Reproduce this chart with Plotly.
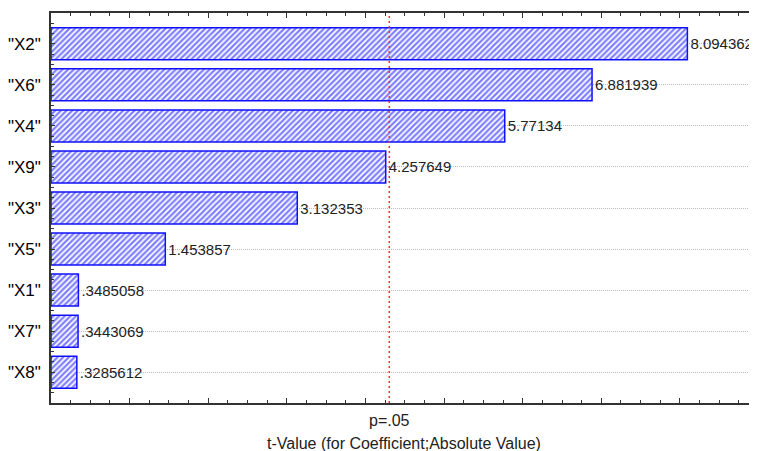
import plotly.graph_objects as go

categories = ['"X2"', '"X6"', '"X4"', '"X9"', '"X3"', '"X5"', '"X1"', '"X7"', '"X8"']
t_values = [8.094362, 6.881939, 5.77134, 4.257649, 3.132353, 1.453857, 0.3485058, 0.3443069, 0.3285612]
value_labels = ["8.094362", "6.881939", "5.77134", "4.257649", "3.132353", "1.453857", ".3485058", ".3443069", ".3285612"]
p_crit = 4.303
p_label = "p=.05"
x_title = "t-Value (for Coefficient;Absolute Value)"

positions = list(range(len(categories)))
font_family = "Liberation Sans, Arial, sans-serif"

fig = go.Figure()
fig.add_trace(go.Bar(
    x=t_values,
    y=positions,
    orientation="h",
    width=0.78,
    marker=dict(
        color="white",
        line=dict(color="#1010ff", width=1.5),
        pattern=dict(shape="/", fgcolor="#0000ff", bgcolor="white", size=4, solidity=0.55),
    ),
    text=value_labels,
    textposition="outside",
    constraintext="none",
    textfont=dict(family=font_family, size=15, color="#222222"),
    cliponaxis=False,
    showlegend=False,
))

fig.add_shape(type="line", x0=p_crit, x1=p_crit, y0=0, y1=1, xref="x", yref="paper",
              line=dict(color="#ff2a2a", width=1.5, dash="2px,3px"))

fig.add_annotation(x=p_crit, y=0, xref="x", yref="paper", yshift=-17, yanchor="middle",
                   text=p_label, showarrow=False,
                   font=dict(family=font_family, size=16, color="#222222"))
fig.add_annotation(x=0.5, y=0, xref="paper", yref="paper", yshift=-40, yanchor="middle",
                   text=x_title, showarrow=False,
                   font=dict(family=font_family, size=16, color="#222222"))

fig.update_xaxes(
    range=[0, 8.98],
    showgrid=False, zeroline=False,
    showline=True, linecolor="#333333", linewidth=2, mirror="ticks",
    ticks="inside", dtick=1, tick0=0, ticklen=5, tickcolor="#333333", tickwidth=1,
    minor=dict(ticks="inside", dtick=0.25, ticklen=3, tickcolor="#333333", showgrid=False),
    showticklabels=False,
    automargin=False,
)
fig.update_yaxes(
    range=[8.75, -0.75],
    tickvals=positions, ticktext=categories,
    showgrid=True, gridcolor="#bbbbbb", griddash="1px,1px", gridwidth=1,
    zeroline=False,
    showline=True, linecolor="#333333", linewidth=1.5, mirror="ticks",
    ticks="inside", ticklen=4, tickcolor="#333333", tickwidth=1,
    minor=dict(ticks="inside", dtick=0.25, tick0=-0.75, ticklen=3, tickcolor="#333333", showgrid=False),
    tickfont=dict(family=font_family, size=17, color="#000000"),
    ticklabelstandoff=5,
    automargin=False,
)

# the page body has an 8px default margin, so the figure is shrunk to keep the plot area aligned
fig.update_layout(
    width=749, height=443,
    margin=dict(l=43, r=0, t=5, b=48),
    plot_bgcolor="white", paper_bgcolor="white",
)

fig.write_html("out.html")
